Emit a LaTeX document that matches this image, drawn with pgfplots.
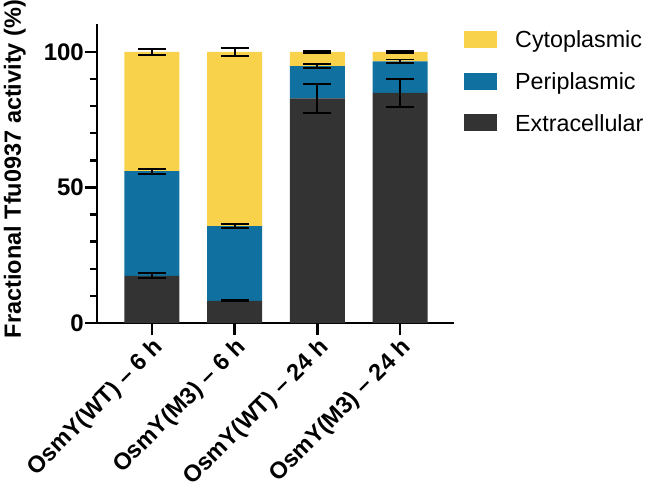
\documentclass[border=0pt]{standalone}
\usepackage{fontspec}
\setmainfont{Liberation Sans}
\usepackage{pgfplots}
\pgfplotsset{compat=1.18}

\definecolor{cyto}{HTML}{F9D24C}
\definecolor{peri}{HTML}{10709F}
\definecolor{extra}{HTML}{333333}

% same frame for the bars and for the error bar overlay
\pgfplotsset{
  frame/.style={
    width=357pt, height=299pt, scale only axis,
    xmin=-0.665, xmax=3.653, ymin=0, ymax=110.3,
  },
  boxleg/.style={legend image code/.code={\fill[##1] (0pt,-8.5pt) rectangle (33pt,8.5pt);}},
}

\begin{document}
\begin{tikzpicture}
\useasboundingbox (-97pt,-168pt) rectangle (549pt,323pt);
\begin{axis}[
    frame,
    ybar stacked,
    bar width=55pt,
    axis x line*=bottom,
    axis y line*=left,
    axis line style={line width=2.4pt},
    tick style={line width=2.4pt, black},
    tick align=outside,
    major tick length=12pt,
    minor tick length=7pt,
    ytick={0,50,100},
    minor ytick={10,20,30,40,60,70,80,90},
    xtick={0,1,2,3},
    xticklabels={OsmY(WT) – 6 h, OsmY(M3) – 6 h, OsmY(WT) – 24 h, OsmY(M3) – 24 h},
    /pgf/number format/assume math mode=true,
    ticklabel style={font=\fontsize{24}{28}\selectfont\bfseries},
    xticklabel style={rotate=45, anchor=north east, inner sep=1pt,
                      font=\fontsize{23.5}{28}\selectfont\bfseries},
    yticklabel style={inner sep=1pt},
    ylabel={Fractional Tfu0937 activity (\%)},
    ylabel style={font=\fontsize{23.5}{28}\selectfont\bfseries,
                  at={(axis description cs:-0.23,0.515)}, anchor=center},
    reverse legend,
    legend cell align=left,
    legend style={draw=none, fill=none, inner sep=0pt,
                  at={(rel axis cs:1.028,0.9776)}, anchor=north west,
                  font=\fontsize{23.3}{28}\selectfont,
                  nodes={text height=17pt, text depth=0pt, inner sep=0pt},
                  row sep=24.7pt,
                  /tikz/every odd column/.append style={column sep=18pt}},
]
\addplot[fill=extra, draw=none, boxleg] coordinates {(0,17.4) (1,8.2) (2,82.9) (3,84.9)};
\addlegendentry{Extracellular}
\addplot[fill=peri, draw=none, boxleg] coordinates {(0,38.6) (1,27.5) (2,11.9) (3,11.6)};
\addlegendentry{Periplasmic}
\addplot[fill=cyto, draw=none, boxleg] coordinates {(0,44.0) (1,64.3) (2,5.2) (3,3.5)};
\addlegendentry{Cytoplasmic}
\end{axis}
\begin{axis}[frame, hide axis]
\addplot[draw=none, mark=none,
    error bars/.cd, y dir=both, y explicit,
    error bar style={draw=black, line width=1.8pt, solid},
    error mark options={rotate=90, mark size=14pt, draw=black, line width=1.8pt, solid}]
  table[x=x, y=y, y error=e] {
x y e
0 17.4 0.9
0 56.0 0.9
0 100.0 1.0
1 8.2 0.25
1 35.7 0.7
1 100.0 1.5
2 82.9 5.3
2 94.8 0.7
2 100.0 0.3
3 84.9 5.2
3 96.5 0.7
3 100.0 0.3
};
\end{axis}
\end{tikzpicture}
\end{document}
